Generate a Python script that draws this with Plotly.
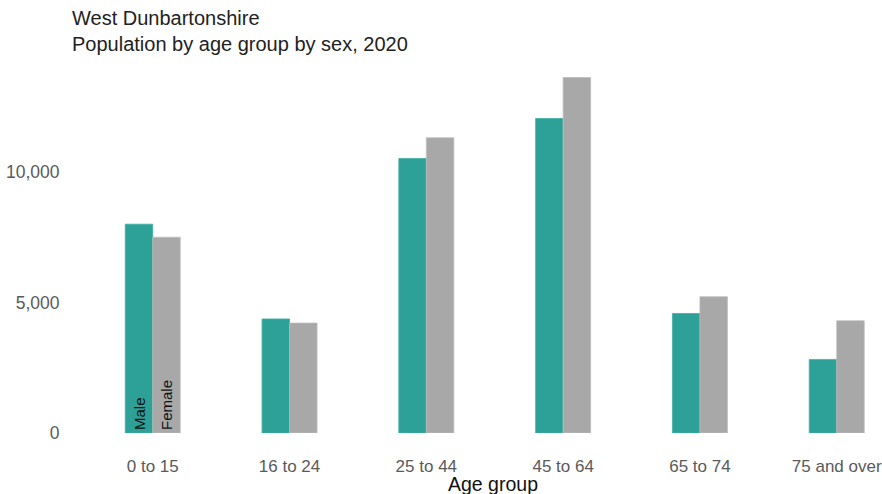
import plotly.graph_objects as go

categories = ["0 to 15", "16 to 24", "25 to 44", "45 to 64", "65 to 74", "75 and over"]
male = [8000, 4370, 10520, 12050, 4580, 2820]
female = [7500, 4210, 11310, 13620, 5220, 4300]
male_label = ["Male", "", "", "", "", ""]
female_label = ["Female", "", "", "", "", ""]
y_ticks = [0, 5000, 10000]
y_ticktext = ["0", "5,000", "10,000"]

FONT = "Liberation Sans, Arial, sans-serif"
TEAL = "#2da197"
GREY = "#a8a8a8"

PLOT_BOTTOM = 433
PLOT_H = 378


def py(ypx):
    return (PLOT_BOTTOM - ypx) / PLOT_H


fig = go.Figure()
fig.add_trace(go.Bar(
    x=list(range(len(categories))), y=male, name="Male",
    marker=dict(color=TEAL, line=dict(color="#3fb0a5", width=0.8)),
    text=male_label, textposition="inside", insidetextanchor="start",
    textangle=-90, insidetextfont=dict(family=FONT, size=15, color="#111"),
))
fig.add_trace(go.Bar(
    x=list(range(len(categories))), y=female, name="Female",
    marker=dict(color=GREY, line=dict(color="#bdbdbd", width=0.8)),
    text=female_label, textposition="inside", insidetextanchor="start",
    textangle=-90, insidetextfont=dict(family=FONT, size=15, color="#111"),
))

fig.update_layout(
    width=882, height=494,
    margin=dict(l=70, r=0, t=55, b=61),
    barmode="group", bargap=0.598, bargroupgap=0,
    plot_bgcolor="white", paper_bgcolor="white",
    showlegend=False,
    font=dict(family=FONT),
    uniformtext=dict(minsize=15, mode="show"),
)
fig.update_xaxes(
    tickmode="array", tickvals=list(range(len(categories))), ticktext=categories,
    range=[-0.605, 5.331], showgrid=False, zeroline=False, showline=False,
    ticks="outside", ticklen=18, tickcolor="rgba(0,0,0,0)",
    tickfont=dict(family=FONT, size=17, color="#5a5a5a"),
)
fig.update_yaxes(
    tickmode="array", tickvals=y_ticks, ticktext=y_ticktext,
    range=[0, 14483], showgrid=False, zeroline=False, showline=False,
    ticks="outside", ticklen=6, tickcolor="rgba(0,0,0,0)",
    tickfont=dict(family=FONT, size=17.5, color="#5a5a5a"),
)
fig.add_annotation(
    text="West Dunbartonshire", xref="paper", yref="paper",
    x=0, y=py(18), xanchor="left", yanchor="middle",
    showarrow=False, font=dict(family=FONT, size=20, color="#222"),
)
fig.add_annotation(
    text="Population by age group by sex, 2020", xref="paper", yref="paper",
    x=0, y=py(44), xanchor="left", yanchor="middle",
    showarrow=False, font=dict(family=FONT, size=20, color="#222"),
)
fig.add_annotation(
    text="Age group", xref="paper", yref="paper",
    x=(493 - 70) / 812, y=py(484), xanchor="center", yanchor="middle",
    showarrow=False, font=dict(family=FONT, size=19.5, color="#111"),
)

fig.write_html(
    "out.html",
    config={"displayModeBar": False},
    post_script="document.body.style.margin='0';document.body.style.overflow='hidden';",
)
